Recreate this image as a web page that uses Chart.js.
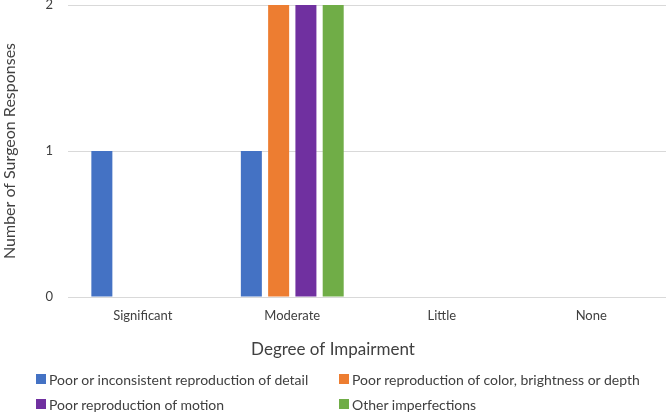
<!DOCTYPE html>
<html>
<head>
<meta charset="utf-8">
<script src="https://cdn.jsdelivr.net/npm/chart.js@4.4.1/dist/chart.umd.min.js"></script>
<style>
  html, body { margin: 0; padding: 0; background: #fff; }
  #wrap { position: relative; width: 666px; height: 412px; }
  #legend { position: absolute; left: 0; top: 0; width: 666px; height: 412px; pointer-events: none;
            font-family: Lato, "Noto Sans", sans-serif; font-size: 14px; color: #404040; }
  .item { position: absolute; display: flex; align-items: center; white-space: nowrap; }
  .sw { width: 10px; height: 10px; margin-right: 3px; }
</style>
</head>
<body>
<div id="wrap">
  <canvas id="c" width="666" height="412"></canvas>
  <div id="legend"></div>
</div>
<script>
const categories = ["Significant", "Moderate", "Little", "None"];
const seriesNames = [
  "Poor or inconsistent reproduction of detail",
  "Poor reproduction of color, brightness or depth",
  "Poor reproduction of motion",
  "Other imperfections"
];
const detailValues = [1, 1, 0, 0];
const colorValues  = [0, 2, 0, 0];
const motionValues = [0, 2, 0, 0];
const otherValues  = [0, 2, 0, 0];
const yTicks = [0, 1, 2];

const colors = ["#4472C4", "#ED7D31", "#7030A0", "#70AD47"];
const allValues = [detailValues, colorValues, motionValues, otherValues];
const FONT = 'Lato, "Noto Sans", sans-serif';

const chart = new Chart(document.getElementById('c'), {
  type: 'bar',
  data: {
    labels: categories,
    datasets: allValues.map((v, i) => ({
      label: seriesNames[i],
      data: v,
      backgroundColor: colors[i],
      borderWidth: 0,
      categoryPercentage: 0.73,
      barPercentage: 0.77
    }))
  },
  options: {
    responsive: false,
    animation: false,
    devicePixelRatio: 1,
    layout: { padding: { top: 0, right: 0, left: 0, bottom: 48 } },
    plugins: {
      legend: { display: false },
      tooltip: { enabled: false },
      title: {
        display: true,
        position: 'bottom',
        text: 'Degree of Impairment',
        color: '#404040',
        font: { family: FONT, size: 17, weight: 'normal' },
        padding: { top: 5, bottom: 4 }
      }
    },
    scales: {
      x: {
        grid: { display: false, drawTicks: false },
        border: { display: false },
        ticks: { color: '#404040', font: { family: FONT, size: 13 }, padding: 11 }
      },
      y: {
        min: 0, max: 2,
        afterBuildTicks: (s) => { s.ticks = yTicks.map(v => ({ value: v })); },
        afterFit: (s) => { s.paddingTop = 5; s.paddingBottom = 0; },
        grid: { color: '#d9d9d9', drawTicks: false, lineWidth: 1 },
        border: { display: false },
        ticks: { color: '#404040', font: { family: FONT, size: 13 }, padding: 15 },
        title: {
          display: true,
          text: 'Number of Surgeon Responses',
          color: '#404040',
          font: { family: FONT, size: 16, weight: 'normal' },
          padding: { top: 0, bottom: 11.3 }
        }
      }
    }
  }
});

// HTML legend built from the chart's datasets
const legendEl = document.getElementById('legend');
const pos = [[36, 379], [339, 379], [36, 404], [339, 404]];
chart.data.datasets.forEach((ds, i) => {
  const it = document.createElement('div');
  it.className = 'item';
  it.style.left = pos[i][0] + 'px';
  it.style.top = (pos[i][1] - 9) + 'px';
  it.style.height = '18px';
  const sw = document.createElement('span');
  sw.className = 'sw';
  sw.style.background = ds.backgroundColor;
  const tx = document.createElement('span');
  tx.textContent = ds.label;
  it.appendChild(sw); it.appendChild(tx);
  legendEl.appendChild(it);
});
</script>
</body>
</html>
